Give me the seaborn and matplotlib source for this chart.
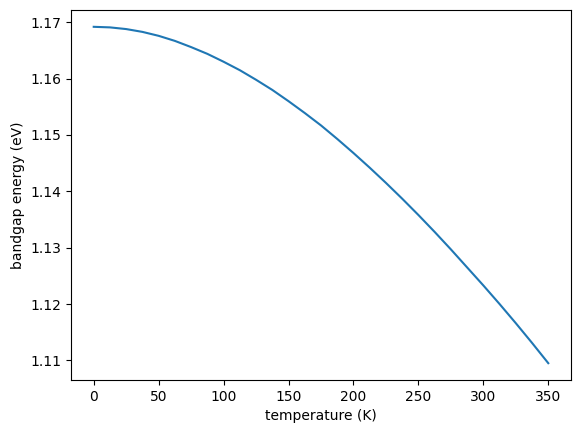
import matplotlib
matplotlib.use('Agg')
import matplotlib.pyplot as plt
import pandas as pd
import seaborn as sns

# values
temperature = [0, 12.5, 25, 37.5, 50, 62.5, 75, 87.5, 100, 112.5, 125, 137.5, 150,
               162.5, 175, 187.5, 200, 212.5, 225, 237.5, 250, 262.5, 275, 287.5,
               300, 312.5, 325, 337.5, 350]
bandgap = [1.1692, 1.1691, 1.1688, 1.1683, 1.1676, 1.1667, 1.1656, 1.1644, 1.1630,
           1.1615, 1.1598, 1.1580, 1.1560, 1.1539, 1.1517, 1.1493, 1.1468, 1.1442,
           1.1415, 1.1387, 1.1358, 1.1328, 1.1297, 1.1265, 1.1233, 1.1200, 1.1166,
           1.1131, 1.1095]

df = pd.DataFrame({'temperature': temperature, 'bandgap': bandgap})

fig, ax = plt.subplots(figsize=(5.76, 4.33), dpi=100)
fig.subplots_adjust(left=71 / 576, right=571 / 576, top=1 - 10 / 433, bottom=1 - 380 / 433)
sns.lineplot(x='temperature', y='bandgap', data=df, ax=ax, color='#1f77b4')
ax.set_xlabel('temperature (K)')
ax.set_ylabel('bandgap energy (eV)')
fig.savefig('out.png', dpi=100)
